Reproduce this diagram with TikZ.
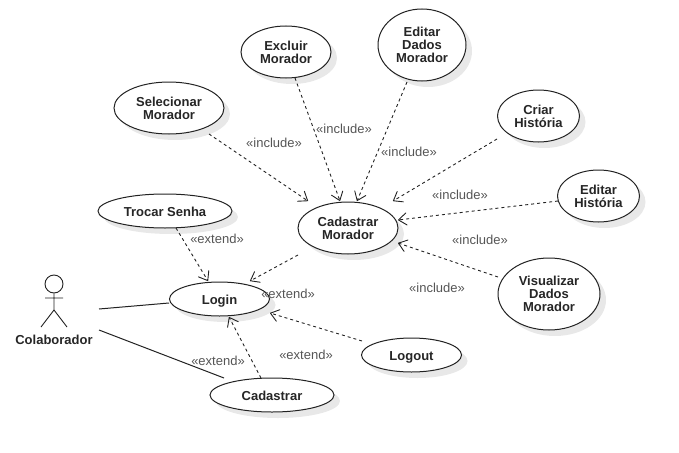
\documentclass[tikz,border=0pt]{standalone}
\usepackage{fontspec}
\setmainfont{Liberation Sans}
\usetikzlibrary{shapes.geometric,arrows.meta,calc}
\definecolor{shade}{HTML}{E8E8E8}
\definecolor{edgeclr}{HTML}{222222}
\definecolor{lblclr}{HTML}{555555}
\tikzset{
  usecase/.style={ellipse,draw=edgeclr,line width=1pt,fill=white,inner sep=0pt,align=center,
    font=\fontsize{13}{13}\selectfont\bfseries,text=black!85,
    minimum width=#1},
  ucshadow/.style={ellipse,fill=shade,inner sep=0pt},
  dep/.style={draw=edgeclr,line width=0.9pt,dash pattern=on 3pt off 3pt,
    -{Straight Barb[length=8pt,width=12pt,line width=0.9pt,round]}},
  assoc/.style={draw=edgeclr,line width=1pt},
  stereo/.style={font=\fontsize{13}{13}\selectfont,text=lblclr,inner sep=0pt},
  actorline/.style={draw=edgeclr,line width=0.9pt},
}
\newcommand{\uc}[6]{%
  \node[ucshadow,minimum width=#4*2pt,minimum height=#5*2pt] at (#2+6,#3+6) {};
  \node[usecase=#4*2pt,minimum height=#5*2pt] (#1) at (#2,#3) {#6};}
\begin{document}
\begin{tikzpicture}[x=1pt,y=-1pt]
\useasboundingbox (0,0) rectangle (679,452);
\uc{sel}{169}{108}{55}{26}{Selecionar\\Morador}
\uc{exc}{286}{52}{45}{26}{Excluir\\Morador}
\uc{edd}{422}{45}{44}{36}{Editar\\Dados\\Morador}
\uc{cri}{538.5}{116}{41}{26}{Criar\\História}
\uc{edh}{598.5}{196}{41}{26}{Editar\\História}
\uc{vis}{549}{294}{51}{36}{Visualizar\\Dados\\Morador}
\uc{cad}{348}{228}{50}{26}{Cadastrar\\Morador}
\uc{tro}{165}{211}{67}{17}{\rule{0pt}{11pt}Trocar Senha}
\uc{log}{219.5}{299}{50}{17}{\rule{0pt}{13pt}Login}
\uc{out}{411.5}{355}{50}{17}{\rule{0pt}{13pt}Logout}
\uc{cas}{272}{395}{62}{17}{\rule{0pt}{11pt}Cadastrar}
% actor
\node[circle,draw=edgeclr,line width=0.9pt,minimum size=18pt,inner sep=0pt] (head) at (54,284) {};
\coordinate (hip) at (54,310);
\coordinate (armL) at (45,298);
\coordinate (armR) at (63,298);
\coordinate (legL) at (41,327);
\coordinate (legR) at (67,327);
\draw[actorline] (head) -- (hip) (armL) -- (armR) (legL) -- (hip) -- (legR);
\node[font=\fontsize{13}{13}\selectfont\bfseries,text=black!85,inner sep=0pt] (act) at (54,340) {Colaborador};
% connectors
\draw[dep] ($(sel)+(40,26)$) -- ($(cad)+(-40,-27)$);
\draw[dep] ($(exc)+(9,26)$) -- ($(cad)+(-8,-27)$);
\draw[dep] ($(edd)+(-15,37)$) -- ($(cad)+(9,-27)$);
\draw[dep] ($(cri)+(-41.5,23)$) -- ($(cad)+(45,-27)$);
\draw[dep] ($(edh)+(-40.5,5)$) -- ($(cad)+(50,-8)$);
\draw[dep] ($(vis)+(-51,-17)$) -- ($(cad)+(50,15)$);
\draw[dep] ($(cad)+(-50,27)$) -- ($(log)+(30.5,-18)$);
\draw[dep] ($(tro)+(11,17)$) -- ($(log)+(-11.5,-18)$);
\draw[dep] ($(cas)+(-11,-17)$) -- ($(log)+(9.5,18)$);
\draw[dep] ($(out)+(-49.5,-14)$) -- ($(log)+(50.5,14)$);
\draw[assoc] ($(act)+(45,-31)$) -- (log.west |- 0,303);
\draw[assoc] ($(act)+(45,-10)$) -- ($(cas)+(-48,-17)$);
% labels
\node[stereo] (l1) at (274,143) {«include»};
\node[stereo] (l2) at (344,128.5) {«include»};
\node[stereo] (l3) at (409,152) {«include»};
\node[stereo] (l4) at (460,195) {«include»};
\node[stereo] (l5) at (480,240) {«include»};
\node[stereo] (l6) at (437,288) {«include»};
\node[stereo] (l7) at (217,239) {«extend»};
\node[stereo] (l8) at (288,294) {«extend»};
\node[stereo] (l9) at (218,361) {«extend»};
\node[stereo] (l10) at (306,355) {«extend»};
\end{tikzpicture}
\end{document}
